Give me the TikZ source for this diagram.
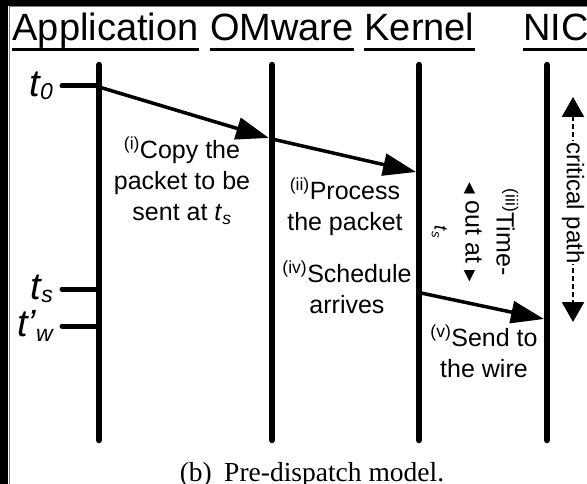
\documentclass[tikz,border=0pt]{standalone}
\usepackage{fontspec}
\setmainfont{Liberation Sans}
\newfontfamily\capfont{Liberation Serif}
\newfontfamily\symfont{DejaVu Sans}
\usetikzlibrary{arrows.meta, positioning}

\newcommand{\tsub}[1]{\raisebox{-3pt}{\fontsize{23}{23}\selectfont #1}}
\newcommand{\tri}[1]{{\symfont\fontsize{15}{15}\selectfont #1}}

\begin{document}
\begin{tikzpicture}[x=1pt, y=-1pt,
  lifeline/.style = {line width=6.5pt, line cap=round},
  tick/.style = {line width=5pt, line cap=round},
  msg/.style = {line width=3.5pt, -{Triangle[length=33pt, width=22pt]}},
  hdr/.style = {font=\fontsize{38}{40}\selectfont, inner sep=0pt, anchor=base},
  uline/.style = {line width=3pt},
  note/.style = {font=\fontsize{25}{31}\selectfont, align=center, inner sep=0pt},
  tlabel/.style = {font=\fontsize{38}{40}\selectfont\itshape, inner sep=0pt},
  critical/.style = {line width=2.5pt, dash pattern=on 5pt off 3pt,
    {Triangle[length=20pt, width=22pt]}-{Triangle[length=20pt, width=22pt]}}]
\useasboundingbox (0,0) rectangle (587,484);
\fill[white] (0,0) rectangle (587,484);
% frame
\fill[black] (0,0) rectangle (587,6);
\fill[black] (0,0) rectangle (8,484);
\draw[gray, line width=1pt] (9,484) -- (9,7) -- (587,7);

% headers
\node[hdr] (happ) at (105.5,41) {Application};
\node[hdr] (homw) at (282,41) {OMware};
\node[hdr] (hker) at (419.5,41) {Kernel};
\node[hdr] (hnic) at (556,41) {NIC};
\draw[uline] ([yshift=-9pt]happ.base west) -- ([yshift=-9pt]happ.base east);
\draw[uline] ([yshift=-9pt]homw.base west) -- ([yshift=-9pt]homw.base east);
\draw[uline] ([yshift=-9pt]hker.base west) -- ([yshift=-9pt]hker.base east);
\draw[uline] ([yshift=-9pt]hnic.base west) -- ([yshift=-9pt]hnic.base east);

% lifelines
\coordinate (appT) at (99,65);  \coordinate (appB) at (99,440);
\coordinate (omwT) at (272,65); \coordinate (omwB) at (272,440);
\coordinate (kerT) at (419,65); \coordinate (kerB) at (419,440);
\coordinate (nicT) at (547,65); \coordinate (nicB) at (547,440);
\draw[lifeline] (appT) -- (appB);
\draw[lifeline] (omwT) -- (omwB);
\draw[lifeline] (kerT) -- (kerB);
\draw[lifeline] (nicT) -- (nicB);

% time marks
\coordinate (t0) at (62,86);
\coordinate (ts) at (62,289);
\coordinate (tw) at (62,326);
\draw[tick] (t0) -- (t0 -| appT);
\draw[tick] (ts) -- (ts -| appT);
\draw[tick] (tw) -- (tw -| appT);
\node[tlabel, left=9pt of t0] (lt0) {t\tsub{0}};
\node[tlabel, left=9pt of ts] (lts) {t\tsub{s}};
\node[tlabel, left=9pt of tw] (ltw) {t’\raisebox{-5pt}{\fontsize{23}{23}\selectfont w}};

% messages
\coordinate (m1s) at (99,87);  \coordinate (m1e) at (269,138);
\coordinate (m2s) at (272,139); \coordinate (m2e) at (416,172);
\coordinate (m3s) at (421,293); \coordinate (m3e) at (544,319);
\draw[msg] (m1s) -- (m1e);
\draw[msg] (m2s) -- (m2e);
\draw[msg] (m3s) -- (m3e);

% steps
\node[note] (copy) at (182,181) {\textsuperscript{(i)}Copy the\\packet to be\\sent at \textit{t}\textsubscript{\textit{s}}};
\node[note] (proc) at (345,207) {\textsuperscript{(ii)}Process\\the packet};
\node[note] (sched) at (347,287) {\textsuperscript{(iv)}Schedule\\arrives};
\node[note] (send) at (484,351) {\textsuperscript{(v)}Send to\\the wire};
\node[note, rotate=-90] (timeout) at (475,232) {\textsuperscript{(iii)}Time-\\\tri{◀} out at \tri{▶}\\{\fontsize{19}{19}\selectfont\textit{t}\textsubscript{\textit{s}}}};

% critical path
\coordinate (cpT) at (573,97);
\coordinate (cpB) at (573,322);
\draw[critical] (cpT) -- (cpB) node[pos=0.47, rotate=-90, fill=white, inner sep=1pt,
  font=\fontsize{24}{26}\selectfont] (cplab) {critical path};

% caption
\node[font=\capfont\fontsize{27.5}{30}\selectfont, anchor=base] (caption) at (312,481) {(b)\hspace{0.45em}Pre-dispatch model.};
\end{tikzpicture}
\end{document}
